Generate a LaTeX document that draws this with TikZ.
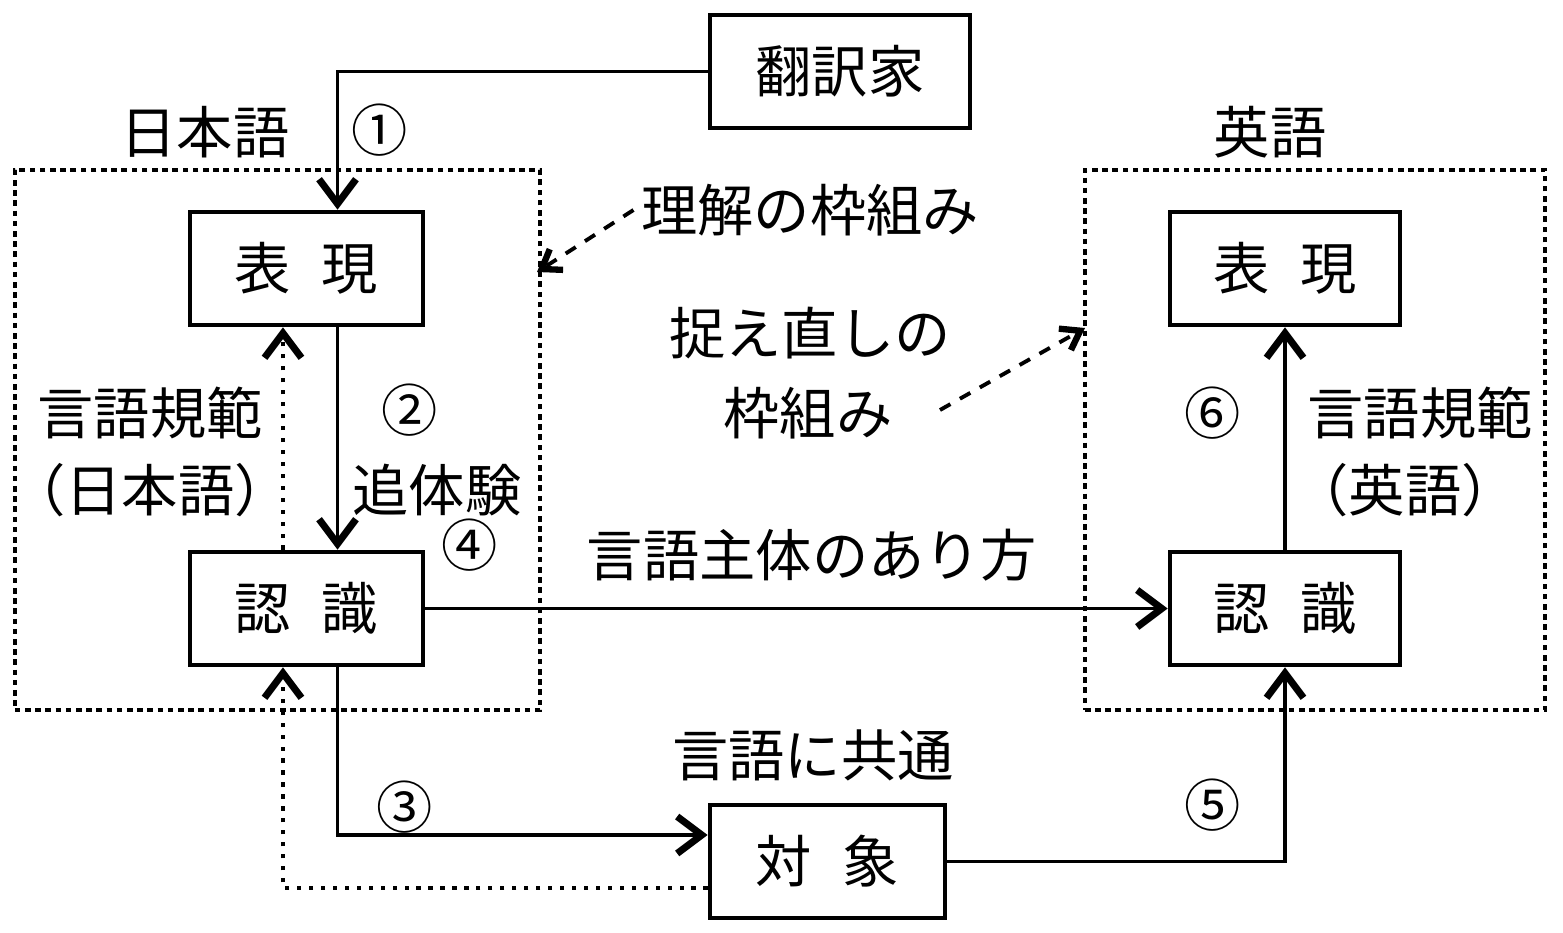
\documentclass[tikz,border=0pt]{standalone}
\usepackage{fontspec}
\newfontfamily\jp{Noto Sans CJK JP}
\usetikzlibrary{arrows.meta,calc}
\newcommand{\lp}{\makebox[0.5em][r]{（}}
\newcommand{\rp}{\makebox[0.5em][l]{）}}
\begin{document}
\begin{tikzpicture}[x=0.01cm,y=-0.01cm,
  font=\jp\fontsize{16pt}{19pt}\selectfont,
  box/.style={draw,line width=1.3pt,inner sep=0pt,minimum height=1.13cm},
  container/.style={draw,line width=1pt,dash pattern=on 1.6pt off 1.3pt,inner sep=0pt,minimum height=5.4cm},
  lbl/.style={inner sep=2pt},
  barb/.style={-{Straight Barb[length=7pt,width=10.5pt,line width=2pt]}},
  conn/.style={line width=0.9pt,barb},
  dotline/.style={line width=1.3pt,dash pattern=on 1.2pt off 2.2pt,barb},
  dasharr/.style={line width=1.1pt,dash pattern=on 3.4pt off 3.1pt,-{Straight Barb[length=5pt,width=7pt,line width=1.8pt]}}]
\useasboundingbox (0,0) rectangle (1563,933);

% containers
\node[container,minimum width=5.25cm] (jpbox) at (277.5,440) {};
\node[container,minimum width=4.60cm] (enbox) at (1315,440) {};

% boxes
\node[box,minimum width=2.60cm] (trans) at (840,71.5) {翻訳家};
\node[box,minimum width=2.33cm] (hyoL) at (306.5,268.5) {表\hspace{0.55em}現};
\node[box,minimum width=2.33cm] (ninL) at (306.5,608.5) {認\hspace{0.55em}識};
\node[box,minimum width=2.35cm] (tai) at (827.5,861.5) {対\hspace{0.55em}象};
\node[box,minimum width=2.30cm] (hyoR) at (1285,268.5) {表\hspace{0.55em}現};
\node[box,minimum width=2.30cm] (ninR) at (1285,608.5) {認\hspace{0.55em}識};

% labels
\node[lbl] (jpn) at (205,132) {日本語};
\node[lbl] (n1) at (380,130) {①};
\node[lbl] (eng) at (1270,132) {英語};
\node[lbl] (rikai) at (810,210) {理解の枠組み};
\node[lbl] (toraenao) at (810,333) {捉え直しの};
\node[lbl] (waku) at (808,413) {枠組み};
\node[lbl] (kihanL) at (150,413) {言語規範};
\node[lbl] (kihanLj) at (150,490) {\lp 日本語\rp};
\node[lbl] (n2) at (410,410) {②};
\node[lbl] (tsui) at (437,490) {追体験};
\node[lbl] (n4) at (470,545) {④};
\node[lbl] (shutai) at (812,555) {言語主体のあり方};
\node[lbl] (kyotsu) at (813,755) {言語に共通};
\node[lbl] (n3) at (405,807) {③};
\node[lbl] (n5) at (1213,805) {⑤};
\node[lbl] (n6) at (1213,413) {⑥};
\node[lbl] (kihanR) at (1420,413) {言語規範};
\node[lbl] (kihanRe) at (1405,490) {\lp 英語\rp};

% connectors
\draw[conn] (trans.west) -| ([xshift=0.31cm]hyoL.north);
\draw[conn] ([xshift=0.31cm]hyoL.south) -- ([xshift=0.31cm]ninL.north);
\draw[dotline] ([xshift=-0.235cm]ninL.north) -- ([xshift=-0.235cm]hyoL.south);
\draw[conn] ([xshift=0.31cm]ninL.south) |- ([yshift=0.265cm]tai.west);
\draw[dotline] ([yshift=-0.265cm]tai.west) -| ([xshift=-0.235cm]ninL.south);
\draw[conn] (ninL.east) -- (ninR.west);
\draw[conn] (tai.east) -| (ninR.south);
\draw[conn] (ninR.north) -- (hyoR.south);

\coordinate (t1) at (537,272);
\coordinate (s2) at (940,410);
\coordinate (t2) at (1085,328);
\draw[dasharr] (rikai.west) -- (t1);
\draw[dasharr] (s2) -- (t2);
\end{tikzpicture}
\end{document}
